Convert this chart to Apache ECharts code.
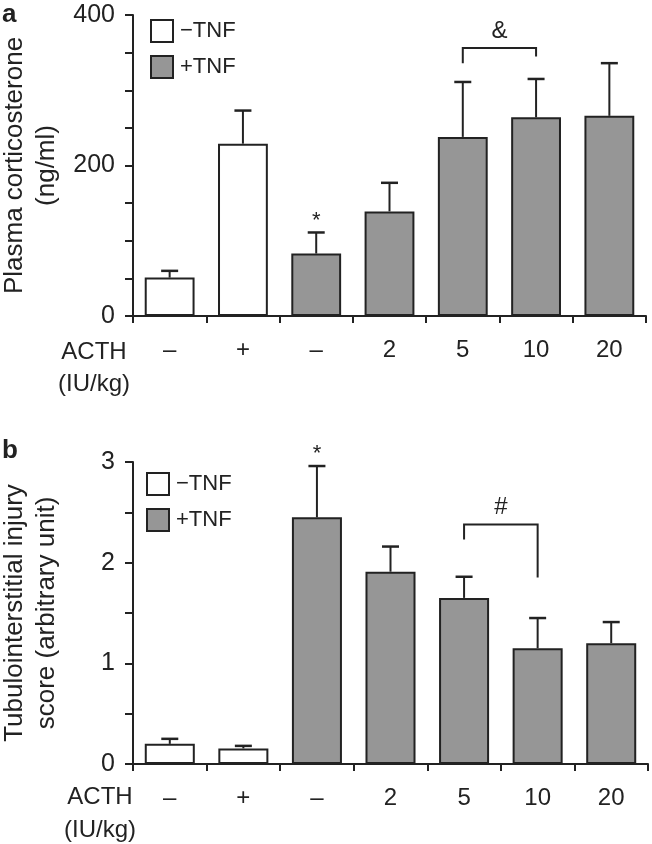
<!DOCTYPE html>
<html><head><meta charset="utf-8">
<script src="https://cdn.jsdelivr.net/npm/echarts@6/dist/echarts.min.js"></script>
<style>html,body{margin:0;padding:0;background:#fff}#c{width:652px;height:844px}</style>
</head><body><div id="c"></div>
<script>
// ---- data ----
const categories = ['–', '+', '–', '2', '5', '10', '20'];
const seriesNames = ['−TNF', '+TNF'];
// Panel a: plasma corticosterone (ng/ml)
const corticoMinusTNF = [51, 229, null, null, null, null, null];
const corticoPlusTNF = [null, null, 83, 139, 238, 264, 266];
const corticoErr = [9, 44, 28, 38, 73, 51, 70];
const corticoStars = [2];
// bracket: [fromIndex, toIndex, topValue, leftEndValue, rightEndValue]
const corticoBracket = [4, 5, 356, 336, 345];
const corticoBracketText = '&';
// Panel b: tubulointerstitial injury score
const injuryMinusTNF = [0.20, 0.155, null, null, null, null, null];
const injuryPlusTNF = [null, null, 2.45, 1.91, 1.65, 1.15, 1.20];
const injuryErr = [0.05, 0.025, 0.51, 0.25, 0.21, 0.30, 0.21];
const injuryStars = [2];
const injuryBracket = [4, 5, 2.378, 2.229, 1.852];
const injuryBracketText = '#';
// tick labels
const corticoTickLabels = [0, 200, 400];
const injuryTickLabels = [0, 1, 2, 3];

// ---- style ----
const FONT = '"Liberation Sans", Arial, Helvetica, sans-serif';
const INK = '#222';
const GRAY = '#969696';

function errData(means1, means2, errs) {
  return categories.map((c, i) => {
    const m = means1[i] != null ? means1[i] : means2[i];
    return [i, m, m + errs[i]];
  });
}

function makeErrRender(stars) {
  return function (params, api) {
    const x = api.value(0), lo = api.value(1), hi = api.value(2);
    const p0 = api.coord([x, lo]);
    const p1 = api.coord([x, hi]);
    const cap = 17;
    const children = [
      { type: 'line', shape: { x1: p0[0], y1: p0[1], x2: p1[0], y2: p1[1] }, style: { stroke: INK, lineWidth: 2 } },
      { type: 'line', shape: { x1: p1[0] - cap / 2, y1: p1[1], x2: p1[0] + cap / 2, y2: p1[1] }, style: { stroke: INK, lineWidth: 2.5 } }
    ];
    if (stars.indexOf(params.dataIndex) >= 0) {
      children.push({ type: 'text', style: { text: '*', x: p1[0], y: p1[1] - 12, align: 'center', verticalAlign: 'middle', font: '22px ' + FONT, fill: INK } });
    }
    return { type: 'group', children };
  };
}

function makeBracketRender(text) {
  return function (params, api) {
    const a = api.value(0), b = api.value(1), top = api.value(2), le = api.value(3), re = api.value(4);
    const pl = api.coord([a, top]), pr = api.coord([b, top]);
    const ple = api.coord([a, le]), pre = api.coord([b, re]);
    return {
      type: 'group', children: [
        { type: 'polyline', shape: { points: [[pl[0], ple[1]], pl, pr, [pr[0], pre[1]]] }, style: { stroke: INK, lineWidth: 2, fill: null } },
        { type: 'text', style: { text: text, x: (pl[0] + pr[0]) / 2, y: pl[1] - 17, align: 'center', verticalAlign: 'middle', font: '24px ' + FONT, fill: INK } }
      ]
    };
  };
}

function xAxisCfg(gridIndex) {
  return {
    type: 'category', gridIndex, data: categories, boundaryGap: true,
    axisLine: { lineStyle: { color: INK, width: 2 } },
    axisTick: { show: true, length: 7, lineStyle: { color: INK, width: 2 } },
    axisLabel: { color: INK, fontSize: 24, fontFamily: FONT, margin: 22, interval: 0 },
    splitLine: { show: false }
  };
}

function yAxisCfg(gridIndex, min, max, interval, labels, name, nameGap) {
  return {
    type: 'value', gridIndex, min, max, interval,
    name, nameLocation: 'middle', nameGap, nameRotate: 90,
    nameTextStyle: { fontSize: 26, fontFamily: FONT, color: INK, lineHeight: 32 },
    axisLine: { show: true, lineStyle: { color: INK, width: 2 } },
    axisTick: { show: true, length: 8, lineStyle: { color: INK, width: 2 } },
    axisLabel: {
      color: INK, fontSize: 25, fontFamily: FONT, margin: 18,
      formatter: v => (labels.indexOf(v) >= 0 ? String(v) : '')
    },
    splitLine: { show: false }
  };
}

function legendCfg(left, top) {
  return {
    data: seriesNames, orient: 'vertical', left, top, icon: 'rect',
    itemWidth: 22, itemHeight: 22, itemGap: 12,
    textStyle: { fontSize: 22, fontFamily: FONT, color: INK, padding: [0, 0, 0, 2] },
    selectedMode: false
  };
}

const barStyleWhite = { color: '#fff', borderColor: INK, borderWidth: 2 };
const barStyleGray = { color: GRAY, borderColor: INK, borderWidth: 2 };

const option = {
  backgroundColor: '#fff',
  animation: false,
  grid: [
    { left: 133, right: 6, top: 15, bottom: 528, outerBoundsMode: 'none', containLabel: false },
    { left: 133, right: 4, top: 462, bottom: 80, outerBoundsMode: 'none', containLabel: false }
  ],
  legend: [legendCfg(145, 14), legendCfg(141, 467)],
  xAxis: [xAxisCfg(0), xAxisCfg(1)],
  yAxis: [
    yAxisCfg(0, 0, 400, 50, corticoTickLabels, 'Plasma corticosterone\n(ng/ml)', 68),
    yAxisCfg(1, 0, 3, 0.5, injuryTickLabels, 'Tubulointerstitial injury\nscore (arbitrary unit)', 70)
  ],
  series: [
    { name: seriesNames[0], type: 'bar', xAxisIndex: 0, yAxisIndex: 0, stack: 'a', data: corticoMinusTNF, barCategoryGap: '32%', itemStyle: barStyleWhite },
    { name: seriesNames[1], type: 'bar', xAxisIndex: 0, yAxisIndex: 0, stack: 'a', data: corticoPlusTNF, barCategoryGap: '32%', itemStyle: barStyleGray },
    { name: seriesNames[0], type: 'bar', xAxisIndex: 1, yAxisIndex: 1, stack: 'b', data: injuryMinusTNF, barCategoryGap: '32%', itemStyle: barStyleWhite },
    { name: seriesNames[1], type: 'bar', xAxisIndex: 1, yAxisIndex: 1, stack: 'b', data: injuryPlusTNF, barCategoryGap: '32%', itemStyle: barStyleGray },
    { type: 'custom', xAxisIndex: 0, yAxisIndex: 0, renderItem: makeErrRender(corticoStars), data: errData(corticoMinusTNF, corticoPlusTNF, corticoErr), z: 5, silent: true },
    { type: 'custom', xAxisIndex: 1, yAxisIndex: 1, renderItem: makeErrRender(injuryStars), data: errData(injuryMinusTNF, injuryPlusTNF, injuryErr), z: 5, silent: true },
    { type: 'custom', xAxisIndex: 0, yAxisIndex: 0, renderItem: makeBracketRender(corticoBracketText), data: [corticoBracket], z: 5, silent: true },
    { type: 'custom', xAxisIndex: 1, yAxisIndex: 1, renderItem: makeBracketRender(injuryBracketText), data: [injuryBracket], z: 5, silent: true }
  ],
  graphic: [
    { type: 'text', left: 2, top: 2, style: { text: 'a', font: 'bold 26px ' + FONT, fill: INK } },
    { type: 'text', left: 2, top: 438, style: { text: 'b', font: 'bold 26px ' + FONT, fill: INK } },
    { type: 'text', x: 94, y: 352, style: { text: 'ACTH', font: '24px ' + FONT, fill: INK, align: 'center', verticalAlign: 'middle' } },
    { type: 'text', x: 94, y: 384, style: { text: '(IU/kg)', font: '24px ' + FONT, fill: INK, align: 'center', verticalAlign: 'middle' } },
    { type: 'text', x: 100, y: 797, style: { text: 'ACTH', font: '24px ' + FONT, fill: INK, align: 'center', verticalAlign: 'middle' } },
    { type: 'text', x: 100, y: 830, style: { text: '(IU/kg)', font: '24px ' + FONT, fill: INK, align: 'center', verticalAlign: 'middle' } }
  ]
};

const chart = echarts.init(document.getElementById('c'), null, { renderer: 'canvas' });
chart.setOption(option);
</script>
</body></html>
